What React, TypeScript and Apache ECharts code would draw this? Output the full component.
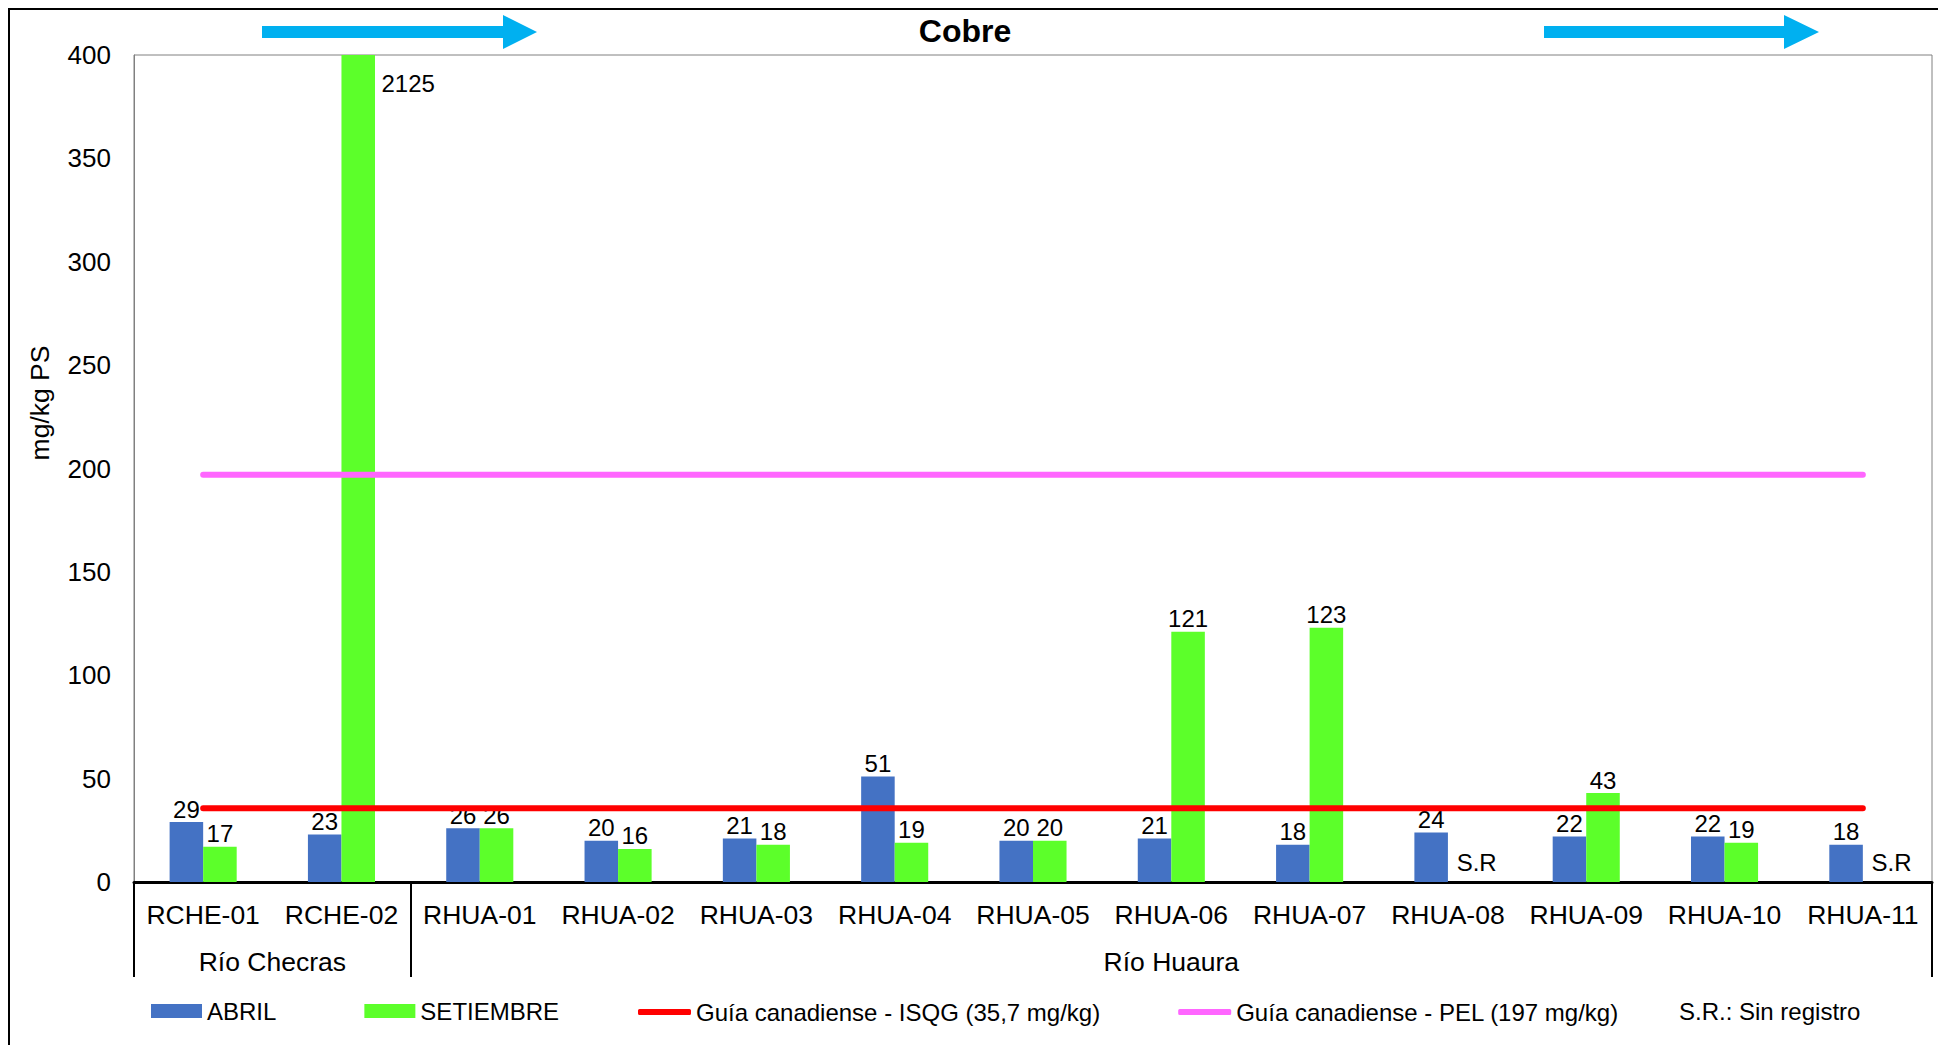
import React, { useEffect, useRef } from "react";
import * as echarts from "echarts";

// Sampling stations along the two rivers
const CATEGORIES = [
  "RCHE-01", "RCHE-02", "RHUA-01", "RHUA-02", "RHUA-03", "RHUA-04", "RHUA-05",
  "RHUA-06", "RHUA-07", "RHUA-08", "RHUA-09", "RHUA-10", "RHUA-11",
];

// Copper in sediment, mg/kg dry weight
const ABRIL = [29, 23, 26, 20, 21, 51, 20, 21, 18, 24, 22, 22, 18];
// null = no sample taken (S.R)
const SETIEMBRE: (number | null)[] = [17, 2125, 26, 16, 18, 19, 20, 121, 123, null, 43, 19, null];

// Canadian sediment quality guidelines
const ISQG_LIMIT = 35.7;
const PEL_LIMIT = 197;

const Y_TICKS = { min: 0, max: 400, interval: 50 };

// River groups shown under the station names
const RIVER_GROUPS = [
  { name: "Río Checras", from: 0, count: 2 },
  { name: "Río Huaura", from: 2, count: 11 },
];

const SERIES_NAMES = {
  abril: "ABRIL",
  setiembre: "SETIEMBRE",
  isqg: "Guía canadiense - ISQG (35,7 mg/kg)",
  pel: "Guía canadiense - PEL (197 mg/kg)",
};
const SR_TEXT = "S.R";
const SR_NOTE = "S.R.: Sin registro";

const FONT = "'Liberation Sans', Arial, Helvetica, sans-serif";
const CHART_W = 1936;
const CHART_H = 1035;
const GRID = { left: 124, top: 45, right: 14, bottom: 163 };

export default function App() {
  const ref = useRef<HTMLDivElement>(null);

  useEffect(() => {
    if (!ref.current) return;
    const chart = echarts.init(ref.current, undefined, { renderer: "svg" });

    const band = (CHART_W - GRID.left - GRID.right) / CATEGORIES.length;
    const axisY = CHART_H - GRID.bottom;

    const groupLabels = RIVER_GROUPS.map((g) => ({
      type: "text",
      x: GRID.left + band * (g.from + g.count / 2),
      y: axisY + 80,
      style: {
        text: g.name,
        font: `26.5px ${FONT}`,
        fill: "#000",
        align: "center",
        verticalAlign: "middle",
      },
    }));

    const arrow = (x0: number, x1: number, tip: number, cy: number) => ({
      type: "polygon",
      shape: {
        points: [
          [x0, cy - 6], [x1, cy - 6], [x1, cy - 17], [tip, cy],
          [x1, cy + 17], [x1, cy + 6], [x0, cy + 6],
        ],
      },
      style: { fill: "#00B0F0" },
    });

    const labelStyle = { color: "#000", fontSize: 24, fontFamily: FONT };

    const setiembreData = SETIEMBRE.map((v) => {
      if (v === null) {
        return {
          value: 0,
          label: { show: true, formatter: SR_TEXT, position: "top", distance: 8, offset: [12, 0] },
        };
      }
      if (v > Y_TICKS.max) {
        // off-scale value: bar is clipped at the top, value written beside it
        return {
          value: v,
          label: {
            show: true,
            position: [40, 28],
            align: "left",
            verticalAlign: "middle",
          },
        };
      }
      return v;
    });

    chart.setOption({
      animation: false,
      textStyle: { fontFamily: FONT },
      grid: {
        ...GRID,
        show: true,
        borderColor: "#808080",
        borderWidth: 1,
      },
      legend: [
        {
          data: [SERIES_NAMES.abril, SERIES_NAMES.setiembre],
          left: 141,
          top: 989,
          padding: 0,
          icon: "rect",
          itemWidth: 51,
          itemHeight: 14,
          itemGap: 88,
          selectedMode: false,
          textStyle: { color: "#000", fontSize: 24, fontFamily: FONT },
        },
        {
          data: [SERIES_NAMES.isqg, SERIES_NAMES.pel],
          left: 628,
          top: 990,
          padding: 0,
          icon: "roundRect",
          itemWidth: 53,
          itemHeight: 6,
          itemGap: 78,
          selectedMode: false,
          textStyle: { color: "#000", fontSize: 24, fontFamily: FONT },
        },
      ],
      xAxis: {
        type: "category",
        data: CATEGORIES,
        axisLine: { show: true, lineStyle: { color: "#000", width: 3 } },
        axisTick: {
          show: true,
          interval: (i: number) => i === 0 || i === 2,
          length: 95,
          lineStyle: { color: "#000", width: 2 },
        },
        axisLabel: {
          interval: 0,
          margin: 19,
          color: "#000",
          fontSize: 26.5,
          fontFamily: FONT,
        },
      },
      yAxis: {
        type: "value",
        min: Y_TICKS.min,
        max: Y_TICKS.max,
        interval: Y_TICKS.interval,
        axisLine: { show: true, lineStyle: { color: "#808080", width: 1 } },
        axisTick: { show: false },
        splitLine: { show: false },
        axisLabel: { margin: 23, color: "#000", fontSize: 26, fontFamily: FONT },
      },
      series: [
        {
          name: SERIES_NAMES.abril,
          type: "bar",
          data: ABRIL,
          barGap: "0%",
          barCategoryGap: "51.5%",
          itemStyle: { color: "#4472C4" },
          label: { show: true, position: "top", distance: 1, ...labelStyle },
        },
        {
          name: SERIES_NAMES.setiembre,
          type: "bar",
          data: setiembreData,
          barGap: "0%",
          barCategoryGap: "51.5%",
          itemStyle: { color: "#5CFF2A" },
          label: { show: true, position: "top", distance: 1, ...labelStyle },
        },
        {
          name: SERIES_NAMES.isqg,
          type: "line",
          data: CATEGORIES.map(() => ISQG_LIMIT),
          symbol: "none",
          silent: true,
          z: 5,
          itemStyle: { color: "#FF0000" },
          lineStyle: { color: "#FF0000", width: 6, cap: "round" },
        },
        {
          name: SERIES_NAMES.pel,
          type: "line",
          data: CATEGORIES.map(() => PEL_LIMIT),
          symbol: "none",
          silent: true,
          z: 5,
          itemStyle: { color: "#FF66FF" },
          lineStyle: { color: "#FF66FF", width: 6, cap: "round" },
        },
      ],
      graphic: [
        {
          type: "text",
          x: 955,
          y: 21,
          style: {
            text: "Cobre",
            font: `bold 32px ${FONT}`,
            fill: "#000",
            align: "center",
            verticalAlign: "middle",
          },
        },
        {
          type: "text",
          x: 30,
          y: 393,
          rotation: Math.PI / 2,
          style: {
            text: "mg/kg PS",
            font: `26.5px ${FONT}`,
            fill: "#000",
            align: "center",
            verticalAlign: "middle",
          },
        },
        ...groupLabels,
        arrow(252, 493, 527, 22),
        arrow(1534, 1774, 1809, 22),
        {
          type: "text",
          x: 1669,
          y: 1001,
          style: {
            text: SR_NOTE,
            font: `24px ${FONT}`,
            fill: "#000",
            align: "left",
            verticalAlign: "middle",
          },
        },
      ],
    });

    return () => chart.dispose();
  }, []);

  return (
    <div
      style={{
        width: 1938,
        height: 1037,
        boxSizing: "border-box",
        borderLeft: "2px solid #000",
        borderTop: "2px solid #000",
        overflow: "hidden",
      }}
    >
      <div ref={ref} style={{ width: CHART_W, height: CHART_H }} />
    </div>
  );
}
